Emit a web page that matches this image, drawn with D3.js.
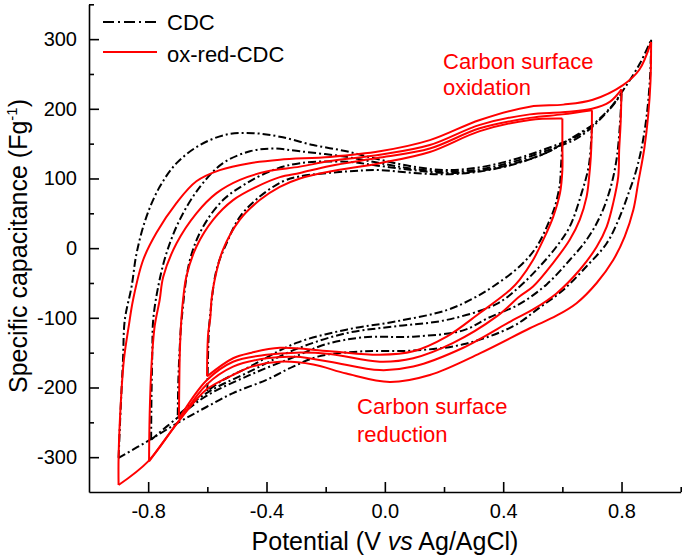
<!DOCTYPE html>
<html><head><meta charset="utf-8">
<script src="https://cdn.jsdelivr.net/npm/d3@7"></script>
<style>
body{margin:0;background:#fff;}
text{font-family:"Liberation Sans",Arial,sans-serif;}
</style></head>
<body><svg id="c" width="685" height="559"></svg>
<script>
// ---- data: Potential (V vs Ag/AgCl) , specific capacitance (F/g) ----
const xMajor = [-0.8,-0.4,0.0,0.4,0.8];
const xMinor = [-0.6,-0.2,0.2,0.6,1.0];
const yMajor = [-300,-200,-100,0,100,200,300];
const yMinor = [-250,-150,-50,50,150,250,350];
const seriesNames = ["CDC","ox-red-CDC"];

// CDC (black dash-dot): anodic (up) and cathodic (down) branches per window
const cdc09Up = [[-0.9,-301],[-0.893,-230],[-0.885,-160],[-0.879,-103],[-0.856,-55],[-0.839,-7],[-0.806,45],[-0.761,88],[-0.704,122],[-0.625,148],[-0.535,163],[-0.445,165],[-0.355,160],[-0.242,148],[-0.13,139],[-0.017,127],[0.096,117],[0.209,112],[0.321,116],[0.434,127],[0.547,143],[0.659,163],[0.761,201],[0.806,227],[0.862,265],[0.9,299]];
const cdc09Down = [[0.9,299],[0.897,250],[0.885,190],[0.866,140],[0.845,105],[0.828,84],[0.794,45],[0.75,7],[0.682,-26],[0.603,-60],[0.524,-85],[0.434,-112],[0.265,-138],[0.096,-147],[-0.073,-148],[-0.22,-155],[-0.31,-170],[-0.4,-189],[-0.513,-208],[-0.603,-228],[-0.693,-249],[-0.794,-275],[-0.9,-301]];
const cdc08Up = [[-0.79,-275],[-0.789,-220],[-0.786,-150],[-0.783,-103],[-0.766,-55],[-0.738,-7],[-0.693,41],[-0.625,88],[-0.547,122],[-0.456,139],[-0.378,143],[-0.287,139],[-0.13,131],[-0.017,122],[0.096,114],[0.209,110],[0.321,113],[0.434,124],[0.547,140],[0.659,160],[0.761,200],[0.8,222]];
const cdc08Down = [[0.8,222],[0.795,180],[0.783,127],[0.761,84],[0.727,45],[0.682,12],[0.625,-17],[0.547,-52],[0.456,-80],[0.35,-100],[0.265,-118],[0.096,-127],[-0.073,-128],[-0.2,-138],[-0.3,-155],[-0.456,-182],[-0.603,-212],[-0.7,-243],[-0.79,-275]];
const cdc07Up = [[-0.7,-240],[-0.698,-190],[-0.693,-140],[-0.687,-103],[-0.659,-17],[-0.614,31],[-0.547,69],[-0.468,93],[-0.378,112],[-0.287,122],[-0.13,124],[-0.017,118],[0.096,112],[0.209,108],[0.321,111],[0.434,121],[0.547,137],[0.62,155],[0.7,176]];
const cdc07Down = [[0.7,176],[0.69,120],[0.665,79],[0.625,31],[0.58,2],[0.524,-26],[0.456,-55],[0.378,-80],[0.209,-103],[0.04,-112],[-0.13,-122],[-0.3,-145],[-0.456,-177],[-0.603,-208],[-0.7,-240]];
const cdc06Up = [[-0.6,-205],[-0.598,-160],[-0.595,-120],[-0.592,-103],[-0.569,-31],[-0.535,7],[-0.49,45],[-0.423,74],[-0.344,96],[-0.287,103],[-0.13,110],[-0.017,112],[0.096,108],[0.209,106],[0.321,110],[0.434,120],[0.547,137],[0.6,150]];
const cdc06Down = [[0.6,150],[0.595,115],[0.592,93],[0.575,60],[0.558,41],[0.513,2],[0.456,-26],[0.366,-55],[0.299,-72],[0.209,-89],[0.04,-105],[-0.13,-117],[-0.299,-136],[-0.456,-170],[-0.55,-190],[-0.6,-205]];

// ox-red-CDC (red solid)
const red09Up = [[-0.9,-340],[-0.9,-300],[-0.892,-218],[-0.882,-160],[-0.865,-110],[-0.851,-74],[-0.817,-17],[-0.772,22],[-0.704,65],[-0.637,96],[-0.558,112],[-0.456,122],[-0.355,127],[-0.186,131],[-0.017,139],[0.152,155],[0.321,184],[0.49,203],[0.603,206],[0.703,213],[0.805,234],[0.86,256],[0.9,296]];
const red09Down = [[0.9,296],[0.898,240],[0.89,190],[0.877,143],[0.856,93],[0.84,55],[0.811,17],[0.772,-17],[0.716,-50],[0.648,-79],[0.58,-97],[0.49,-115],[0.321,-151],[0.152,-182],[0.017,-192],[-0.13,-180],[-0.242,-167],[-0.355,-163],[-0.45,-170],[-0.513,-182],[-0.603,-203],[-0.7,-250],[-0.8,-306],[-0.9,-340]];
const red08Up = [[-0.797,-306],[-0.795,-240],[-0.789,-170],[-0.778,-112],[-0.761,-74],[-0.749,-41],[-0.704,7],[-0.637,50],[-0.569,79],[-0.49,98],[-0.4,110],[-0.287,117],[-0.186,125],[-0.017,134],[0.152,148],[0.321,177],[0.49,192],[0.6,195],[0.7,200],[0.76,210],[0.8,228]];
const red08Down = [[0.8,228],[0.797,180],[0.792,141],[0.789,103],[0.772,65],[0.75,31],[0.716,2],[0.659,-31],[0.58,-65],[0.501,-88],[0.434,-103],[0.265,-143],[0.096,-170],[-0.017,-175],[-0.186,-163],[-0.3,-156],[-0.4,-158],[-0.513,-170],[-0.603,-196],[-0.7,-250],[-0.797,-306]];
const red07Up = [[-0.696,-245],[-0.695,-200],[-0.693,-150],[-0.689,-110],[-0.682,-74],[-0.671,-41],[-0.637,2],[-0.58,41],[-0.513,69],[-0.434,88],[-0.355,102],[-0.287,108],[-0.186,118],[-0.017,130],[0.152,143],[0.321,172],[0.49,187],[0.6,192],[0.7,198]];
const red07Down = [[0.7,198],[0.699,160],[0.696,130],[0.69,100],[0.682,74],[0.659,41],[0.625,12],[0.569,-21],[0.501,-55],[0.456,-69],[0.378,-98],[0.231,-136],[0.096,-158],[-0.017,-163],[-0.186,-152],[-0.3,-150],[-0.4,-153],[-0.513,-163],[-0.603,-190],[-0.696,-245]];
const red06Up = [[-0.601,-184],[-0.6,-150],[-0.597,-122],[-0.59,-100],[-0.586,-74],[-0.575,-45],[-0.547,-2],[-0.49,41],[-0.423,69],[-0.355,88],[-0.287,100],[-0.186,110],[-0.017,122],[0.152,138],[0.321,168],[0.49,184],[0.6,186]];
const red06Down = [[0.6,186],[0.6,150],[0.6,112],[0.592,79],[0.569,45],[0.541,17],[0.501,-17],[0.456,-45],[0.423,-60],[0.321,-93],[0.209,-127],[0.096,-148],[-0.017,-153],[-0.186,-148],[-0.355,-143],[-0.45,-150],[-0.513,-158],[-0.601,-184]];

const cdcBranches = [cdc09Up,cdc09Down,cdc08Up,cdc08Down,cdc07Up,cdc07Down,cdc06Up,cdc06Down];
const redBranches = [red09Up,red09Down,red08Up,red08Down,red07Up,red07Down,red06Up,red06Down];

// ---- drawing ----
const svg = d3.select("#c");
const x = d3.scaleLinear().domain([-1,1]).range([89,680.7]);
const y = d3.scaleLinear().domain([-350,350]).range([492,4.3]);
const line = d3.line().x(d=>x(d[0])).y(d=>y(d[1])).curve(d3.curveCatmullRom.alpha(0.5));

const plot = svg.append("g");
plot.selectAll("path.cdc").data(cdcBranches).join("path")
  .attr("class","cdc").attr("d",line).attr("fill","none")
  .attr("stroke","#000").attr("stroke-width",2).attr("stroke-dasharray","8,3,2,3");
plot.selectAll("path.red").data(redBranches).join("path")
  .attr("class","red").attr("d",line).attr("fill","none")
  .attr("stroke","#ff0000").attr("stroke-width",2);

// axes
const fontTick = 20;
const gx = svg.append("g").attr("transform","translate(0,492)");
gx.call(d3.axisBottom(x).tickValues(xMajor).tickFormat(d3.format(".1f")).tickSizeInner(-10).tickSizeOuter(0).tickPadding(12));
const gxm = svg.append("g").attr("transform","translate(0,492)");
gxm.call(d3.axisBottom(x).tickValues(xMinor).tickFormat("").tickSizeInner(-5).tickSizeOuter(0));
gxm.select(".domain").remove();
const gy = svg.append("g").attr("transform","translate(89,0)");
gy.call(d3.axisLeft(y).tickValues(yMajor).tickFormat(d3.format("d")).tickSizeInner(-10).tickSizeOuter(0).tickPadding(12));
const gym = svg.append("g").attr("transform","translate(89,0)");
gym.call(d3.axisLeft(y).tickValues(yMinor).tickFormat("").tickSizeInner(-5).tickSizeOuter(0));
gym.select(".domain").remove();
svg.selectAll(".domain").attr("stroke","#000").attr("stroke-width",1.6);
svg.selectAll(".tick line").attr("stroke","#000").attr("stroke-width",1.6);
svg.selectAll(".tick text").attr("font-size",fontTick).attr("fill","#000")
  .attr("font-family","Liberation Sans, Arial, sans-serif")
  .text(function(){ return this.textContent.replace("\u2212","-"); });

// axis titles
svg.append("text").attr("x",385).attr("y",550).attr("text-anchor","middle")
  .attr("font-size",25).attr("fill","#000")
  .call(t=>{ t.append("tspan").text("Potential (V ");
             t.append("tspan").attr("font-style","italic").text("vs");
             t.append("tspan").text(" Ag/AgCl)"); });
svg.append("text").attr("transform","translate(27,246) rotate(-90)").attr("text-anchor","middle")
  .attr("font-size",25).attr("fill","#000")
  .call(t=>{ t.append("tspan").text("Specific capacitance (Fg");
             t.append("tspan").attr("font-size",15).attr("dy",-10).text("-1");
             t.append("tspan").attr("dy",10).text(")"); });

// legend
const leg = svg.append("g");
leg.append("line").attr("x1",103).attr("x2",157).attr("y1",22).attr("y2",22)
  .attr("stroke","#000").attr("stroke-width",2).attr("stroke-dasharray","11,4,2,4");
leg.append("text").attr("x",167).attr("y",29.5).attr("font-size",22).text(seriesNames[0]);
leg.append("line").attr("x1",103).attr("x2",157).attr("y1",52).attr("y2",52)
  .attr("stroke","#ff0000").attr("stroke-width",2);
leg.append("text").attr("x",167).attr("y",61.5).attr("font-size",22).text(seriesNames[1]);

// annotations
const ann = svg.append("g").attr("fill","#ff0000").attr("font-size",22);
ann.append("text").attr("x",443).attr("y",68.5).text("Carbon surface");
ann.append("text").attr("x",443).attr("y",95).text("oxidation");
ann.append("text").attr("x",357).attr("y",413.5).text("Carbon surface");
ann.append("text").attr("x",357).attr("y",441.5).text("reduction");
</script></body></html>
